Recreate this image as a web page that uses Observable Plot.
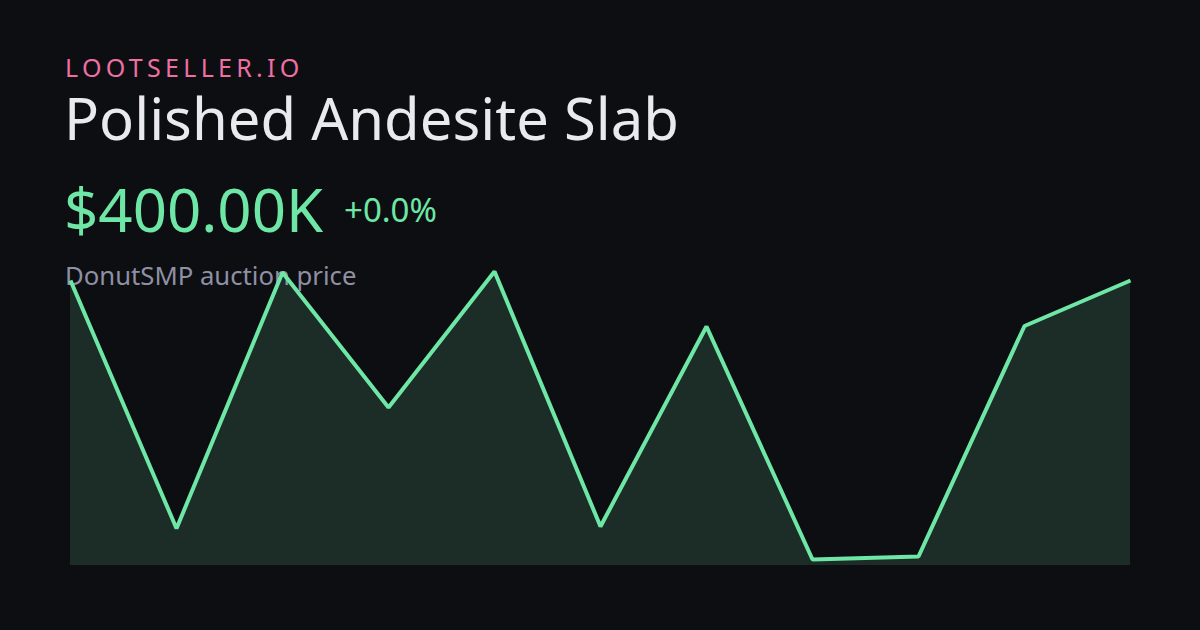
<!DOCTYPE html>
<html>
<head>
<meta charset="utf-8">
<script src="https://cdn.jsdelivr.net/npm/d3@7"></script>
<script src="https://cdn.jsdelivr.net/npm/@observablehq/plot@0.6"></script>
<style>
  html, body { margin: 0; padding: 0; background: #0d0e12; }
  #wrap { position: relative; width: 1200px; height: 630px; overflow: hidden; background: #0d0e12; font-family: "Noto Sans", "Open Sans", sans-serif; }
  .t { position: absolute; line-height: 1; white-space: nowrap; }
  #brand { left: 65px; top: 55px; font-size: 25px; letter-spacing: 4.3px; color: #ee6fa2; }
  #title { left: 64px; top: 89px; font-size: 58px; color: #e9e9ef; }
  #price { left: 64px; top: 179px; font-size: 60px; color: #6ee7a6; }
  #change { left: 344px; top: 192.5px; font-size: 33px; color: #6ee7a6; }
  #sub { left: 65px; top: 262.5px; font-size: 25.7px; color: #8f90a4; }
  #chart { position: absolute; left: 0; top: 0; }
</style>
</head>
<body>
<div id="wrap">
  <div class="t" id="brand"></div>
  <div class="t" id="title"></div>
  <div class="t" id="price"></div>
  <div class="t" id="change"></div>
  <div class="t" id="sub"></div>
  <div id="chart"></div>
</div>
<script>
const brand = "LOOTSELLER.IO";
const itemName = "Polished Andesite Slab";
const priceLabel = "$400.00K";
const changeLabel = "+0.0%";
const subtitle = "DonutSMP auction price";

// price history (11 samples)
const steps = [0, 1, 2, 3, 4, 5, 6, 7, 8, 9, 10];
const prices = [400000, 152000, 408000, 273000, 409000, 154000, 354000, 121000, 124000, 354500, 400000];
const yDomain = [115000, 409000];

document.getElementById("brand").textContent = brand;
document.getElementById("title").textContent = itemName;
document.getElementById("price").textContent = priceLabel;
document.getElementById("change").textContent = changeLabel;
document.getElementById("sub").textContent = subtitle;

const data = steps.map((s, i) => ({step: s, price: prices[i], base: yDomain[0]}));

const chart = Plot.plot({
  width: 1200,
  height: 630,
  margin: 0,
  style: {background: "transparent", overflow: "visible"},
  x: {domain: [0, 10], range: [70, 1130], axis: null},
  y: {domain: yDomain, range: [565, 271], axis: null},
  marks: [
    Plot.areaY(data, {x: "step", y1: "base", y2: "price", fill: "#6ee7a6", fillOpacity: 0.14}),
    Plot.lineY(data, {x: "step", y: "price", stroke: "#6ee7a6", strokeWidth: 4, strokeLinejoin: "miter", strokeLinecap: "butt"})
  ]
});
document.getElementById("chart").appendChild(chart);
</script>
</body>
</html>
